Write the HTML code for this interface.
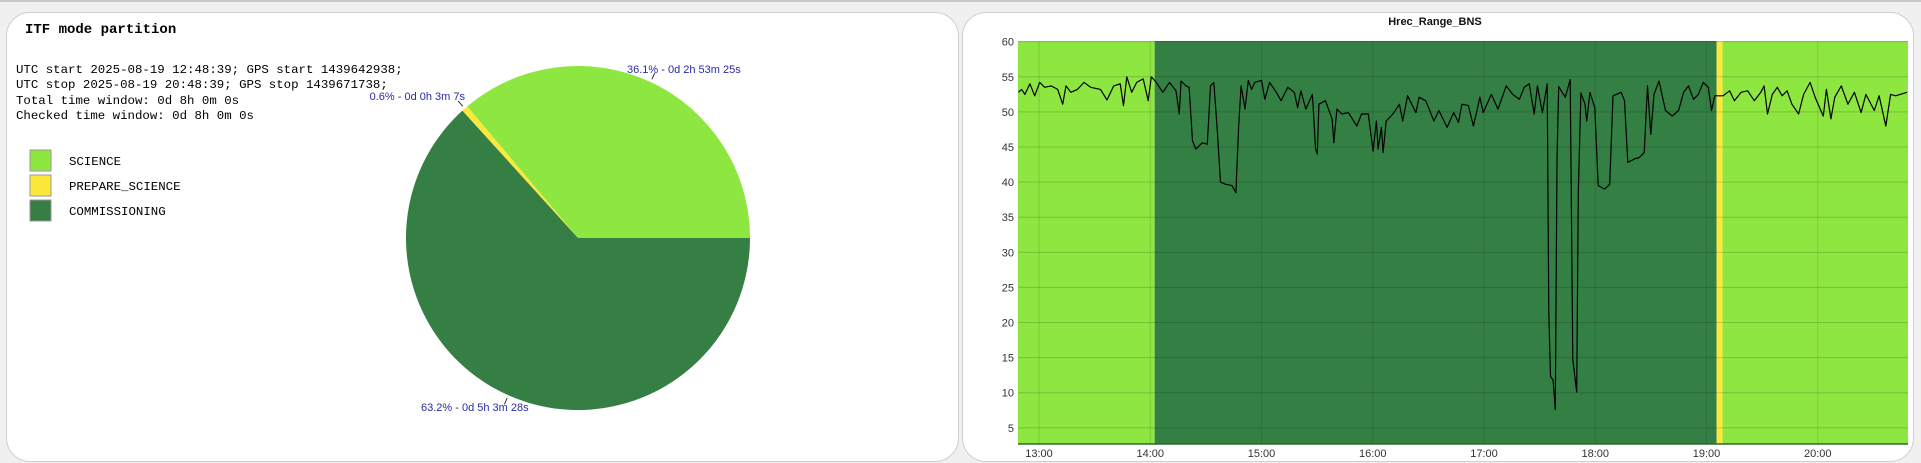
<!DOCTYPE html>
<html><head><meta charset="utf-8">
<style>
html,body{margin:0;padding:0;background:#f0f0f0;width:1921px;height:463px;overflow:hidden;font-family:"Liberation Sans",sans-serif}
.panel{position:absolute;background:#fff;border:1px solid #cfcfcf;border-radius:24px}
.mono{font-family:"Liberation Mono",monospace}
</style></head><body>
<div style="position:absolute;left:0;top:0;width:1921px;height:2px;background:#c8c8c8"></div>
<div class="panel" style="left:6px;top:12px;width:951px;height:448px">
<svg id="pie" width="951" height="448" style="position:absolute;left:0;top:0">
<text x="18" y="20" class="mono" font-size="14" font-weight="bold" fill="#000">ITF mode partition</text>
<g class="mono" font-size="12.4" fill="#000">
<text x="9" y="60">UTC start 2025-08-19 12:48:39; GPS start 1439642938;</text>
<text x="9" y="75">UTC stop 2025-08-19 20:48:39; GPS stop 1439671738;</text>
<text x="9" y="91">Total time window: 0d 8h 0m 0s</text>
<text x="9" y="106">Checked time window: 0d 8h 0m 0s</text>
</g>
</svg>
</div>
<div class="panel" style="left:962px;top:12px;width:950px;height:448px"></div>
<svg id="line" width="1921" height="463" style="position:absolute;left:0;top:0"></svg>
<script>
// ---- pie data ----
const pieModes = ["SCIENCE","PREPARE_SCIENCE","COMMISSIONING"];
const pieShares = [36.1,0.6,63.2];
const pieLabels = ["36.1% - 0d 2h 53m 25s","0.6% - 0d 0h 3m 7s","63.2% - 0d 5h 3m 28s"];
const pieColors = ["#8ee640","#fce83a","#357f45"];

// ---- line chart data (minutes since 12:48:39) ----
const lineMinutes = [0.2,2,3.7,6.4,9,11.7,14.4,17.9,21.4,24.1,25.9,28.5,32.1,35.6,39.2,44.5,48,51.6,55.1,56.9,58.7,61.3,64,67.5,70.2,71.9,74.6,78.1,81.7,85.2,87,87.9,90.6,92.3,94.1,95.9,99.4,102.1,103.8,105.6,107.4,109.2,111.8,115.4,117.5,119,120.3,
122.4,124.2,126,127.7,131.3,133.1,135.7,139.3,141.9,145.5,149,150.8,152.6,155.2,158.8,160.5,161.4,162.3,165.8,169.4,170.3,172,174.7,178.2,182.7,185.3,188.9,191.5,193.3,194.2,196,196.9,198.6,202.2,205.7,207.5,210.1,214.6,216.3,219.9,224.3,227,231.4,235,
237.6,239.4,242.9,245.6,247.3,249.1,250.9,255.3,258.9,263.3,266.8,270.4,273,275.7,278.4,280.1,282.8,285.4,286.3,287.2,288.6,289.8,290.7,291.6,293.5,295.2,297.8,299.2,301.3,302.2,303.6,305.8,306.7,308.5,311.1,312.9,316.5,319.1,320.9,325.3,327.1,328.9,332.4,335.1,337.7,339.5,341.3,343,345.7,349.2,352.8,356.3,
359,361.6,364.3,366.9,369.6,372.3,374,375.8,380.2,383.8,386.4,390,393.5,397.1,400.6,402.4,404.2,406.8,409.5,412.1,414.8,417.4,421,423.7,427.2,429.9,434.3,436,438.4,440.5,444,447.6,451.1,454.7,457.3,461.8,464.4,468,470.6,473.3,479.5];
const lineValues = [52.8,53.2,52.5,54,52.3,54.2,53.5,53.7,53.2,51.1,53.7,52.8,53.2,54.2,53.5,53.2,51.7,53.7,54,50.9,55,52.8,54.2,54.7,51.6,55,54.2,52.8,54.2,53,49.7,54.4,53.7,53.5,45.9,44.7,45.6,45.4,53.7,54.2,47.8,40,39.7,39.5,38.5,47.8,53.7,
50.4,54.5,53.2,54.2,54.5,51.8,54.2,52.8,51.6,53.5,52.8,50.6,53,50.4,52.5,44.7,44,51.1,51.6,49,45.6,50.4,49.7,49.9,48,49.7,49.7,44.4,48.7,44.7,47.8,44.2,48.7,49.7,51.1,48.7,52.3,49.9,52.1,51.6,48.7,50.2,47.8,49.9,
48.5,51.1,50.9,48,49.9,52.1,49.9,52.5,50.4,53.7,52.5,51.8,53.5,54,49.7,53.7,49.9,54,21.4,12.3,11.8,7.6,43.2,53.6,52.8,52.1,54.6,14.7,10.1,38.5,52.7,51.1,48.7,52.8,50.6,39.5,39,39.7,52.3,52.8,51.6,42.8,43.3,43.5,44.2,53.7,46.8,52.5,54.4,50.2,49.4,50.2,
52.8,53.7,51.8,52.5,54.2,53.5,50.2,52.3,52.3,53,51.6,52.8,53,51.6,52.8,53.7,49.7,52.5,53.5,52.3,53,51.1,49.7,52.5,54.2,52.1,49.4,53.2,49,52.1,53.7,51.1,52.8,49.9,52.5,50.2,52.3,48,52.5,52.3,52.8];
const bandModes = ["SCIENCE","COMMISSIONING","PREPARE_SCIENCE","SCIENCE"];
const bandStart = [0,73.7,376.8,380];
const bandEnd = [73.7,376.8,380,480];
const yTicks = [5,10,15,20,25,30,35,40,45,50,55,60];
const xTickMinutes = [11.35,71.35,131.35,191.35,251.35,311.35,371.35,431.35];
const xTickLabels = ["13:00","14:00","15:00","16:00","17:00","18:00","19:00","20:00"];

const NS="http://www.w3.org/2000/svg";
function mk(parent,tag,attrs){const e=document.createElementNS(NS,tag);for(const k in attrs)e.setAttribute(k,attrs[k]);parent.appendChild(e);return e;}

// ---- pie ----
(function(){
const svg=document.getElementById('pie');
const cx=571,cy=225,r=172;
// legend
pieModes.forEach((m,i)=>{
  const y=137+i*25;
  const sq=mk(svg,'rect',{x:23,y:y,width:21,height:21,fill:pieColors[i],stroke:'#999','stroke-width':1});
  
  
  const t=mk(svg,'text',{x:62,y:y+15,'font-size':'12.4','font-family':'Liberation Mono, monospace',fill:'#000'});
  t.textContent=m;
  
  
});
const total=pieShares.reduce((a,b)=>a+b,0);
let a0=0;
const labelAnchor=["start","end","start"];
const labelPos=[[620,60],[458,87],[414,398]];
pieShares.forEach((s,i)=>{
  const a1=a0+s/total*2*Math.PI;
  const x0=cx+r*Math.cos(-a0),y0=cy+r*Math.sin(-a0);
  const x1=cx+r*Math.cos(-a1),y1=cy+r*Math.sin(-a1);
  const large=(a1-a0)>Math.PI?1:0;
  const p=mk(svg,'path',{d:`M${cx},${cy}L${x0},${y0}A${r},${r} 0 ${large} 0 ${x1},${y1}Z`,fill:pieColors[i]});
  
  
  const am=(a0+a1)/2;
  const lx=cx+(r+3)*Math.cos(-am),ly=cy+(r+3)*Math.sin(-am);
  const lx2=cx+(r+10)*Math.cos(-am),ly2=cy+(r+10)*Math.sin(-am);
  const ln=mk(svg,'line',{x1:lx,y1:ly,x2:lx2,y2:ly2,stroke:'#333','stroke-width':1});
  
  
  const t=mk(svg,'text',{x:labelPos[i][0],y:labelPos[i][1],'text-anchor':labelAnchor[i],'font-size':'11',fill:'#2a2aa8','textLength':i==1?'0':'', 'font-family':'Liberation Sans Narrow, Liberation Sans, sans-serif'});
  t.removeAttribute('textLength');
  t.textContent=pieLabels[i];
  
  
  a0=a1;
});
})();

// ---- line chart ----
(function(){
const svg=document.getElementById('line');
const L=1018,R=1908,T=41,B=444;
const yMin=2.7,yMax=60.1,xMax=480;
const X=m=>L+(m/xMax)*(R-L);
const Y=v=>B-(v-yMin)/(yMax-yMin)*(B-T);
const colorOf={SCIENCE:'#8ee640',COMMISSIONING:'#348044',PREPARE_SCIENCE:'#fce83a'};
const title=mk(svg,'text',{x:1435,y:25,'text-anchor':'middle','font-size':'11','font-weight':'bold',fill:'#111'});
title.textContent='Hrec_Range_BNS';


bandModes.forEach((m,i)=>{
  const r=mk(svg,'rect',{x:X(bandStart[i]),y:T,width:X(bandEnd[i])-X(bandStart[i]),height:B-T,fill:colorOf[m]});
  
  
});
yTicks.forEach(v=>{
  const g=mk(svg,'line',{x1:L,x2:R,y1:Y(v),y2:Y(v),stroke:'rgba(0,0,0,0.16)','stroke-width':1});
  
  
  const t=mk(svg,'text',{x:L-4,y:Y(v)+4,'text-anchor':'end','font-size':'11',fill:'#333'});
  t.textContent=v;
  
  
});
xTickMinutes.forEach((m,i)=>{
  const g=mk(svg,'line',{x1:X(m),x2:X(m),y1:T,y2:B,stroke:'rgba(0,0,0,0.12)','stroke-width':1});
  
  
  const t=mk(svg,'text',{x:X(m),y:457,'text-anchor':'middle','font-size':'11',fill:'#333'});
  t.textContent=xTickLabels[i];
  
  
});
const ax=mk(svg,'line',{x1:L,x2:R,y1:B,y2:B,stroke:'#2a6a30','stroke-width':1.5});


let d='';
lineMinutes.forEach((m,i)=>{d+=(i?'L':'M')+X(m).toFixed(1)+','+Y(lineValues[i]).toFixed(1);});
const p=mk(svg,'path',{d:d,fill:'none',stroke:'#000','stroke-width':1.2,'stroke-linejoin':'round'});


})();
</script>
</body></html>
